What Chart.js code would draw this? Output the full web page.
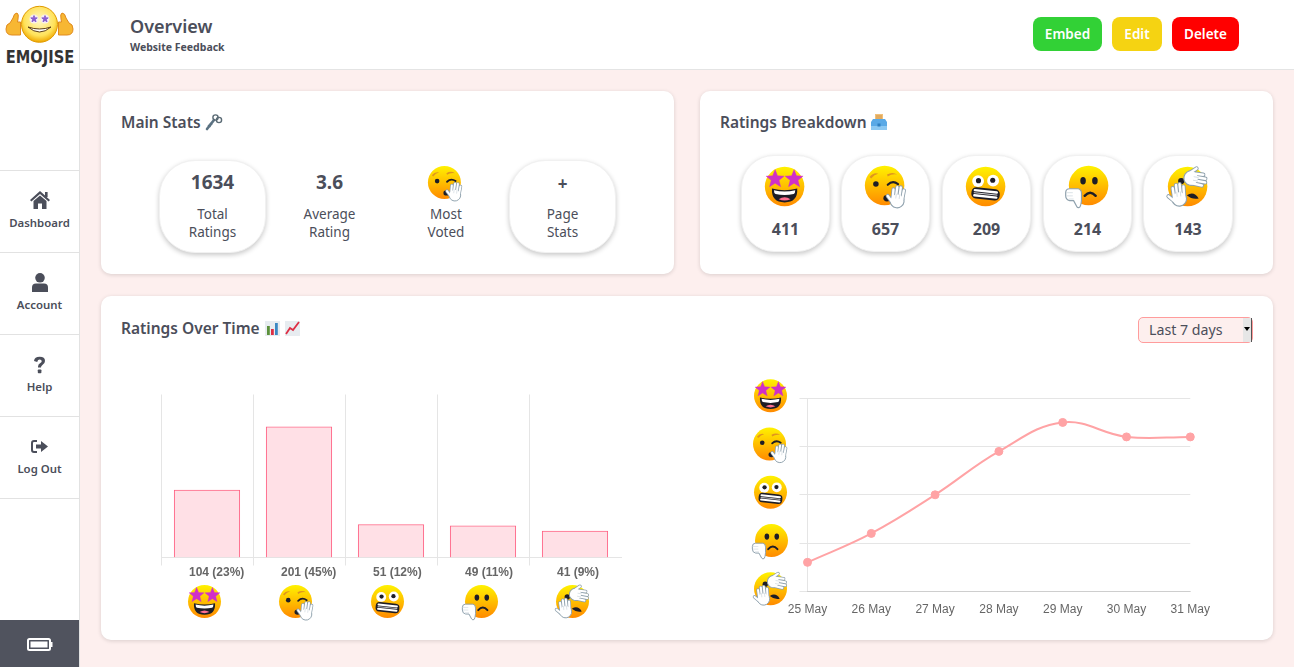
<!DOCTYPE html>
<html><head><meta charset="utf-8">
<script src="https://cdn.jsdelivr.net/npm/chart.js@4/dist/chart.umd.js"></script>
<style>
html,body{margin:0;padding:0;width:1294px;height:667px;overflow:hidden;background:#fdefee;font-family:"Noto Sans",sans-serif;color:#4b4e5a}
#side{position:absolute;left:0;top:0;width:79px;height:667px;background:#fff;border-right:1px solid #e2e2e2}
#head{position:absolute;left:80px;top:0;width:1214px;height:69px;background:#fff;border-bottom:1px solid #e4e4e4}
.sep{position:absolute;left:0;width:79px;height:1px;background:#e2e2e2}
#batt{position:absolute;left:0;top:620px;width:79px;height:47px;background:#50535e}
.card{position:absolute;background:#fff;border-radius:10px;box-shadow:0 1px 4px rgba(0,0,0,.14)}
.pill{position:absolute;background:#fff;box-shadow:0 2px 5px rgba(0,0,0,.22);border:1px solid #f1f1f1;box-sizing:border-box}
.t{position:absolute;transform:translate(-50%,-50%);white-space:nowrap;line-height:1}
.l{position:absolute;transform:translateY(-50%);white-space:nowrap;line-height:1}
.btn{position:absolute;top:17px;height:34px;border-radius:8px;color:#fff;font-weight:600;font-size:13.5px;display:flex;align-items:center;justify-content:center}
.h2{font-size:15.5px;font-weight:600}
.sm{font-size:13.5px}
.num{font-size:19px;font-weight:700}
.nav{font-size:11.4px;font-weight:600}
canvas{position:absolute;display:block}
svg{position:absolute;overflow:visible}
#sel{position:absolute;left:1138px;top:317px;width:115px;height:26px;box-sizing:border-box;background:#fdefee;border:1px solid #ff9c9c;border-radius:5px}
#arrow{position:absolute;left:1243px;top:318px;width:8px;height:24px;background:#e6e6e6;border-right:1px solid #555}
#arrow:after{content:"";position:absolute;left:1px;top:9px;border:3px solid transparent;border-top:4px solid #000}
</style></head><body>
<div id="side"></div><div id="head"></div>
<div class="sep" style="top:170px"></div><div class="sep" style="top:252px"></div><div class="sep" style="top:334px"></div><div class="sep" style="top:416px"></div><div class="sep" style="top:498px"></div>
<div id="batt"></div>
<div class="t" style="left:39.5px;top:57px;font:700 17px 'DejaVu Sans';color:#333;letter-spacing:0;transform:translate(-50%,-50%) scaleX(.86)">EMOJISE</div>
<div class="t nav" style="left:39.5px;top:222.5px">Dashboard</div>
<div class="t nav" style="left:39.5px;top:304.5px">Account</div>
<div class="t nav" style="left:39.5px;top:386.5px">Help</div>
<div class="t nav" style="left:39.5px;top:468.5px">Log Out</div>
<div class="l" style="left:130px;top:26px;font-size:18px;font-weight:600">Overview</div>
<div class="l" style="left:130px;top:47px;font-size:10.5px;font-weight:700">Website Feedback</div>
<div class="btn" style="left:1033px;width:69px;background:#32d136">Embed</div>
<div class="btn" style="left:1112px;width:50px;background:#f5d312">Edit</div>
<div class="btn" style="left:1172px;width:67px;background:#ff0000">Delete</div>

<div class="card" style="left:101px;top:91px;width:573px;height:183px"></div>
<div class="card" style="left:700px;top:91px;width:573px;height:183px"></div>
<div class="card" style="left:101px;top:296px;width:1172px;height:344px"></div>

<div class="l h2" style="left:121px;top:123px">Main Stats</div>
<div class="l h2" style="left:720px;top:123px">Ratings Breakdown</div>
<div class="l h2" style="left:121px;top:328.5px">Ratings Over Time</div>

<div class="pill" style="left:159px;top:160px;width:107px;height:93px;border-radius:36px"></div>
<div class="pill" style="left:509px;top:160px;width:107px;height:93px;border-radius:36px"></div>
<div class="t num" style="left:212.5px;top:182px">1634</div>
<div class="t sm" style="left:212.5px;top:215px">Total</div><div class="t sm" style="left:212.5px;top:233px">Ratings</div>
<div class="t num" style="left:329.5px;top:182px">3.6</div>
<div class="t sm" style="left:329.5px;top:215px">Average</div><div class="t sm" style="left:329.5px;top:233px">Rating</div>
<div class="t sm" style="left:446px;top:215px">Most</div><div class="t sm" style="left:446px;top:233px">Voted</div>
<div class="t" style="left:562.5px;top:183px;font-size:17px;font-weight:700">+</div>
<div class="t sm" style="left:562.5px;top:215px">Page</div><div class="t sm" style="left:562.5px;top:233px">Stats</div>

<div id="pills"></div>
<div id="sel"></div><div id="arrow"></div>
<div class="l" style="left:1149px;top:330px;font-size:14.2px">Last 7 days</div>

<canvas id="barChart" width="520" height="262" style="left:121px;top:370px;width:520px;height:262px"></canvas>
<canvas id="lineChart" width="490" height="260" style="left:740px;top:370px;width:490px;height:260px"></canvas>
<div id="art"></div>

<script>
/* ---------- data ---------- */
const ratingKinds = ['star','wink','grimace','frown','palm'];
const ratingTotals = [411,657,209,214,143];
const barValues = [104,201,51,49,41];
const barLabels = ['104 (23%)','201 (45%)','51 (12%)','49 (11%)','41 (9%)'];
const dayLabels = ['25 May','26 May','27 May','28 May','29 May','30 May','31 May'];
const dayRatings = [1.6,2.2,3.0,3.9,4.5,4.2,4.2];
const yTickKinds = {1:'palm',2:'frown',3:'grimace',4:'wink',5:'star'};

/* ---------- emoji artwork ---------- */
let gid=0;
function star(cx,cy,R,r,fill){let p=[];for(let i=0;i<10;i++){const a=-Math.PI/2+i*Math.PI/5,q=i%2?r:R;p.push((cx+q*Math.cos(a)).toFixed(1)+','+(cy+q*Math.sin(a)).toFixed(1));}return `<polygon points="${p.join(' ')}" fill="${fill}" stroke="${fill}" stroke-width="1" stroke-linejoin="round"/>`;}
function hand(x,y,r,s){const d='M-11 4L-12 -17M-4 2L-4 -23M4 2L4 -24M11 4L12 -18M-13 10L-23 0';
 return `<g transform="translate(${x} ${y}) rotate(${r}) scale(${s})"><path d="${d}" stroke="#8fa1ad" stroke-width="9.5" stroke-linecap="round" fill="none"/><ellipse cy="8" rx="16" ry="16" fill="#fff" stroke="#8fa1ad" stroke-width="2.5"/><path d="${d}" stroke="#fff" stroke-width="5.5" stroke-linecap="round" fill="none"/><path d="M-4 -8V3M4 -8V3" stroke="#c7d2d9" stroke-width="1.5"/></g>`;}
function thumb(){return `<path d="M2 58H24Q32 60 32 70V86Q31 100 28 104Q24 108 20 103L12 88H2Q-8 86 -8 76V68Q-8 58 2 58Z" fill="#fff" stroke="#8fa1ad" stroke-width="3" stroke-linejoin="round"/><path d="M-6 68H10M-6 76H10M0 84H12" stroke="#c7d2d9" stroke-width="1.6"/>`;}
function emojiInner(kind){
 const id='g'+(++gid);
 let s=`<defs><linearGradient id="${id}" x1="0" y1="0" x2="0" y2="1"><stop offset="0" stop-color="#fff200"/><stop offset="1" stop-color="#ff8a00"/></linearGradient></defs><circle cx="50" cy="50" r="50" fill="url(#${id})"/>`;
 if(kind==='star'){
  s+=star(26,31,24,10.5,'#d02fc8')+star(74,31,24,10.5,'#d02fc8');
  s+=`<path d="M18 55Q50 63 82 55Q84 90 50 90Q16 90 18 55Z" fill="#1d1d26"/><path d="M23 59Q50 66 77 59Q77 67 73 69Q50 74 27 69Q23 67 23 59Z" fill="#fff"/><path d="M35 82Q50 72 65 82Q50 89 35 82Z" fill="#ff6f91"/>`;
 } else if(kind==='wink'){
  s+=`<path d="M12 28Q22 16 34 20Q24 22 16 32Z" fill="#e0951f"/><path d="M56 22Q70 14 82 22Q68 20 58 27Z" fill="#e0951f"/><circle cx="28" cy="46" r="7" fill="#1d1d26"/><path d="M58 48Q70 36 84 46" stroke="#1d1d26" stroke-width="5.5" fill="none" stroke-linecap="round"/><ellipse cx="56" cy="82" rx="9" ry="8" fill="#1d1d26"/>`+hand(83,80,8,1.1);
 } else if(kind==='grimace'){
  s+=`<circle cx="31" cy="36" r="15" fill="#fff"/><circle cx="69" cy="35" r="15" fill="#fff"/><circle cx="32" cy="35" r="6.5" fill="#1d1d26"/><circle cx="68" cy="34" r="6.5" fill="#1d1d26"/>`;
  s+=`<g transform="rotate(6 50 68)"><rect x="14" y="54" width="72" height="29" rx="12" fill="#1d1d26"/><path d="M22 62H78M22 75H78" stroke="#fff" stroke-width="6" stroke-linecap="round"/><path d="M20 68.5H80" stroke="#fff" stroke-width="2"/></g>`;
 } else if(kind==='frown'){
  s+=`<ellipse cx="36" cy="38" rx="7" ry="9.5" fill="#1d1d26"/><ellipse cx="66" cy="38" rx="7" ry="9.5" fill="#1d1d26"/><path d="M40 76Q54 60 68 76" stroke="#1d1d26" stroke-width="6" fill="none" stroke-linecap="round"/>`+thumb();
 } else {
  s+=`<circle cx="34" cy="36" r="8" fill="#1d1d26"/><path d="M48 72Q66 60 78 80Q62 84 48 72Z" fill="#1d1d26"/>`+hand(28,72,-6,1.15)+hand(68,30,100,1.15);
 }
 return s;
}
function placeEmoji(kind,cx,cy,face,host){
 const size=face*1.6;
 const el=document.createElement('div');
 el.innerHTML=`<svg xmlns="http://www.w3.org/2000/svg" width="${size}" height="${size}" viewBox="-30 -30 160 160" style="left:${cx-size/2}px;top:${cy-size/2}px">${emojiInner(kind)}</svg>`;
 (host||document.getElementById('art')).appendChild(el.firstChild);
}
function emojiImage(kind){
 return new Promise(res=>{const im=new Image();im.onload=()=>res(im);
  const svg=`<svg xmlns="http://www.w3.org/2000/svg" width="320" height="320" viewBox="-30 -30 160 160">${emojiInner(kind)}</svg>`;
  im.src='data:image/svg+xml;charset=utf-8,'+encodeURIComponent(svg);});
}
function drawEmoji(ctx,im,cx,cy,face){const s=face*1.6;ctx.drawImage(im,cx-s/2,cy-s/2,s,s);}
function rawSvg(x,y,w,h,vb,inner){const a=document.getElementById('art');const d=document.createElement('div');d.innerHTML=`<svg xmlns="http://www.w3.org/2000/svg" width="${w}" height="${h}" viewBox="${vb}" style="left:${x}px;top:${y}px">${inner}</svg>`;a.appendChild(d.firstChild);}

/* ---------- pills ---------- */
const pillX=[741,841,942,1043,1143], pillW=[89,89,89,89,90];
const faceX=[785,885,986,1088.5,1188], faceY=[187,186,187,186,187];
ratingKinds.forEach((k,i)=>{
 const h=document.getElementById('pills');
 h.insertAdjacentHTML('beforeend',`<div class="pill" style="left:${pillX[i]}px;top:155px;width:${pillW[i]}px;height:97px;border-radius:33px"></div><div class="t" style="left:${pillX[i]+pillW[i]/2}px;top:229px;font-size:16px;font-weight:700">${ratingTotals[i]}</div>`);
});
ratingKinds.forEach((k,i)=>placeEmoji(k,faceX[i],faceY[i],39.5));
placeEmoji('wink',444.5,182,33);

/* ---------- small icons ---------- */
const ic='#4b4e5a';
rawSvg(30,191,20,18,'0 0 20 18',`<path d="M10 0L20 9L18.6 10.4L10 3L1.4 10.4L0 9Z" fill="${ic}"/><path d="M3.5 10L10 4.4L16.5 10V18H12V12.5H8V18H3.5Z" fill="${ic}"/><rect x="15" y="1" width="2.6" height="5" fill="${ic}"/>`);
rawSvg(32,273,16,19,'0 0 16 19',`<circle cx="8" cy="4.8" r="4.8" fill="${ic}"/><path d="M0 19V14.5Q0 10.5 4 10.5H12Q16 10.5 16 14.5V19Z" fill="${ic}"/>`);
rawSvg(33,356,13,18,'0 0 13 18',`<path d="M1 5Q1.5 .8 6.7 .8Q12 .8 12 5Q12 7.8 9.2 9.2Q8 9.9 8 11.5H5V10.8Q5 8.3 7.3 7.1Q8.7 6.3 8.7 5.2Q8.7 3.6 6.7 3.6Q4.7 3.6 4.2 6Z" fill="${ic}"/><rect x="4.8" y="13.4" width="3.6" height="3.8" rx=".8" fill="${ic}"/>`);
rawSvg(31,440,17,13,'0 0 17 13',`<path d="M6 1H3Q1 1 1 3V10Q1 12 3 12H6" stroke="${ic}" stroke-width="2" fill="none"/><path d="M5 4.5H10V1L17 6.5L10 12V8.5H5Z" fill="${ic}"/>`);
rawSvg(27,638,26,13,'0 0 26 13',`<rect x="1" y="1" width="22" height="11" rx="1.5" fill="none" stroke="#fff" stroke-width="2"/><rect x="3.5" y="3.5" width="17" height="6" fill="#fff"/><rect x="23.5" y="4" width="2" height="5" fill="#fff"/>`);
/* key */
rawSvg(205,113,17,18,'0 0 17 18',`<path d="M2 16L9 7" stroke="#5b7282" stroke-width="2.6" stroke-linecap="round"/><path d="M3 12L5.5 14M5 10L7 12" stroke="#5b7282" stroke-width="1.6"/><circle cx="10.5" cy="4.5" r="2.6" fill="none" stroke="#5b6b75" stroke-width="1.4"/><circle cx="14" cy="7" r="2.6" fill="none" stroke="#5b6b75" stroke-width="1.4"/>`);
/* ballot box */
rawSvg(871,114,16,16,'0 0 16 16',`<rect x="4" y="0" width="8" height="7" fill="#f2c17a"/><path d="M5 2H11M5 4H11" stroke="#c98b3a" stroke-width=".8"/><path d="M2 5H14L16 8V16H0V8Z" fill="#5aa9e6"/><rect x="0" y="12" width="16" height="4" fill="#8cc8f2"/><rect x="6.5" y="9.5" width="3" height="3" fill="#2f7fbf"/>`);
/* bar chart */
rawSvg(265,321,15,15,'0 0 15 15',`<rect width="15" height="15" fill="#e7ecf0"/><rect x="2" y="5" width="2.8" height="9" fill="#5c913b"/><rect x="6" y="8" width="2.8" height="6" fill="#dd2e44"/><rect x="10" y="2" width="2.8" height="12" fill="#3b88c3"/>`);
/* line chart */
rawSvg(285,321,15,15,'0 0 15 15',`<rect width="15" height="15" fill="#e7ecf0"/><path d="M1 13L5 7L8 9L14 1" fill="none" stroke="#dd2e44" stroke-width="1.8"/>`);
/* logo */
const logoThumb=`<path d="M1 23Q1 18 5 17L8 12Q9 7 12 7Q14 8 13 13L12.5 16H15.5V29H7Q1 29 1 23Z" fill="#f7b733" stroke="#e08a1e" stroke-width="1"/>`;
rawSvg(5,6,69,38,'0 0 69 38',`<defs><radialGradient id="lg" cx=".5" cy=".4" r=".6"><stop offset="0" stop-color="#fff8c8"/><stop offset=".7" stop-color="#ffe25a"/><stop offset="1" stop-color="#f0a800"/></radialGradient></defs>
${logoThumb}<g transform="translate(69 0) scale(-1 1)">${logoThumb}</g>
<circle cx="34.5" cy="18.3" r="18" fill="url(#lg)" stroke="#e09a00" stroke-width="1"/><circle cx="29" cy="13" r="4.5" fill="#f6eef0"/><circle cx="40" cy="13" r="4.5" fill="#f6eef0"/>${star(29,13,3.4,1.4,'#8a5fd0')}${star(40,13,3.4,1.4,'#8a5fd0')}<path d="M23 21Q34.5 31 46 21Q34.5 25 23 21Z" fill="#fff" stroke="#5a3a10" stroke-width="1"/>`);

/* ---------- charts ---------- */
Promise.all(ratingKinds.map(emojiImage)).then(images=>{
 const img={}; ratingKinds.forEach((k,i)=>img[k]=images[i]);
 const grid='rgba(0,0,0,0.1)', tickColor='#666', tickFont='"Liberation Sans",Arial,sans-serif';

 const barEmoji={id:'barEmoji',afterDraw(c){
  const x=c.scales.x, shift=[-2.5,-3.5,-3.5,-1.5,-2.5], base=c.scales.y.getPixelForValue(0);
  ratingKinds.forEach((k,i)=>drawEmoji(c.ctx,img[k],x.getPixelForTick(i)+shift[i],base+44,33));
 }};
 new Chart(document.getElementById('barChart'),{
  type:'bar',plugins:[barEmoji],
  data:{labels:barLabels,datasets:[{data:barValues,backgroundColor:'rgba(255,99,132,0.2)',borderColor:'rgb(255,99,132)',borderWidth:1}]},
  options:{responsive:false,animation:false,
   layout:{padding:{left:40,top:24.5,right:20,bottom:0}},
   plugins:{legend:{display:false},tooltip:{enabled:false}},
   scales:{
    y:{display:false,min:0,max:250},
    x:{afterFit(s){s.height=74.5;},
     grid:{color:c=>c.tick?grid:'transparent',tickLength:8},
     border:{color:grid},
     ticks:{color:tickColor,autoSkip:false,maxRotation:0,padding:0,align:'start',labelOffset:-18,font:{family:tickFont,size:12,weight:'bold'}}}
   }}
 });

 const lineEmoji={id:'lineEmoji',afterDraw(c){
  const y=c.scales.y, xs=[770.5,769.5,770.5,771.5,770.5], order=[5,4,3,2,1];
  order.forEach((v,i)=>drawEmoji(c.ctx,img[yTickKinds[v]],xs[i]-740,y.getPixelForValue(v)-2.5,33));
 }};
 new Chart(document.getElementById('lineChart'),{
  type:'line',plugins:[lineEmoji],
  data:{labels:dayLabels,datasets:[{data:dayRatings,borderColor:'#ffa3a5',backgroundColor:'#ffa3a5',borderWidth:2,pointRadius:4,pointBorderWidth:1,tension:.4,fill:false}]},
  options:{responsive:false,animation:false,
   layout:{padding:{left:0,top:28.3,right:39.7,bottom:0}},
   plugins:{legend:{display:false},tooltip:{enabled:false}},
   scales:{
    y:{min:1,max:5,afterFit(s){s.width=67.5;},
     grid:{color:grid,tickLength:8},border:{color:grid},
     ticks:{stepSize:1,callback:()=>'',padding:0}},
    x:{afterFit(s){s.height=38.7;},
     grid:{display:false},border:{color:grid},
     ticks:{color:tickColor,autoSkip:false,maxRotation:0,padding:3,font:{family:tickFont,size:12}}}
   }}
 });
});
</script>
</body></html>
